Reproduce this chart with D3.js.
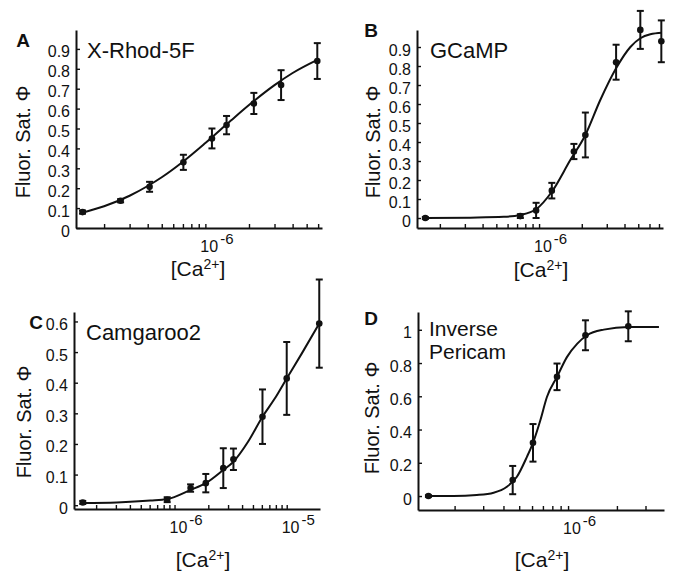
<!DOCTYPE html>
<html>
<head>
<meta charset="utf-8">
<script src="https://cdn.jsdelivr.net/npm/d3@7"></script>
<style>
	body {margin:0; background:#fff;}
	svg {display:block;}
	text {font-family:"Liberation Sans", Arial, Helvetica, sans-serif; fill:#111;}
</style>
</head>
<body>
<script>

//////////////
// data ([Ca2+] in M, saturation 0..1)
//////////////

// A : X-Rhod-5F
var caA = [1.42e-7, 2.6e-7, 4.12e-7, 7.05e-7, 1.11e-6, 1.40e-6, 2.16e-6, 3.33e-6, 5.92e-6];
var phiA = [0.08, 0.137, 0.207, 0.33, 0.45, 0.517, 0.626, 0.718, 0.839];
var errA = [0.008, 0.008, 0.025, 0.038, 0.05, 0.046, 0.053, 0.075, 0.09];
var fitCaA = [1.42e-7, 2e-7, 3e-7, 4e-7, 5e-7, 7e-7, 1e-6, 1.5e-6, 2e-6, 3e-6, 4e-6, 5.92e-6];
var fitPhiA = [0.077, 0.109, 0.162, 0.211, 0.255, 0.333, 0.427, 0.54, 0.618, 0.718, 0.779, 0.845];

// B : GCaMP
var caB = [1.58e-7, 7.38e-7, 9.53e-7, 1.23e-6, 1.76e-6, 2.12e-6, 3.49e-6, 5.17e-6, 7.27e-6];
var phiB = [0.0, 0.01, 0.04, 0.144, 0.35, 0.437, 0.82, 0.99, 0.93];
var errB = [0.005, 0.01, 0.04, 0.041, 0.04, 0.118, 0.092, 0.1, 0.11];
var fitCaB = [1.58e-7, 3.28e-7, 5.64e-7, 7.38e-7, 9.53e-7, 1.23e-6, 1.66e-6, 2.12e-6, 2.7e-6, 3.49e-6, 4.4e-6, 5.17e-6, 6.08e-6, 7.35e-6];
var fitPhiB = [0.0, 0.002, 0.006, 0.016, 0.046, 0.138, 0.305, 0.437, 0.621, 0.788, 0.9, 0.946, 0.967, 0.975];

// C : Camgaroo2
var caC = [1.52e-7, 8.6e-7, 1.39e-6, 1.9e-6, 2.72e-6, 3.35e-6, 6.08e-6, 1.0e-5, 1.95e-5];
var phiC = [0.009, 0.018, 0.056, 0.072, 0.121, 0.15, 0.289, 0.414, 0.593];
var errC = [0.005, 0.008, 0.012, 0.03, 0.065, 0.035, 0.089, 0.119, 0.144];
var fitCaC = [1.52e-7, 3.05e-7, 6.08e-7, 8.6e-7, 1.39e-6, 1.9e-6, 2.72e-6, 3.35e-6, 4.52e-6, 6.08e-6, 7.85e-6, 1e-5, 1.36e-5, 1.95e-5];
var fitPhiC = [0.007, 0.009, 0.015, 0.02, 0.05, 0.072, 0.115, 0.142, 0.207, 0.289, 0.349, 0.414, 0.495, 0.593];

// D : Inverse Pericam
var caD = [1.38e-7, 4.56e-7, 6.08e-7, 8.55e-7, 1.28e-6, 2.35e-6];
var phiD = [0.0, 0.096, 0.32, 0.717, 0.967, 1.021];
var errD = [0.005, 0.085, 0.113, 0.08, 0.09, 0.09];
var fitCaD = [1.38e-7, 1.97e-7, 2.74e-7, 3.48e-7, 4.2e-7, 4.84e-7, 5.58e-7, 6.08e-7, 6.75e-7, 7.41e-7, 8.55e-7, 9.86e-7, 1.14e-6, 1.31e-6, 1.66e-6, 2.35e-6, 3.63e-6];
var fitPhiD = [0.0, 0.0, 0.006, 0.02, 0.056, 0.116, 0.236, 0.32, 0.456, 0.596, 0.717, 0.837, 0.917, 0.967, 1.001, 1.017, 1.017];

// tick labels
var yTicksA = [0, 0.1, 0.2, 0.3, 0.4, 0.5, 0.6, 0.7, 0.8, 0.9];
var yTicksB = [0, 0.1, 0.2, 0.3, 0.4, 0.5, 0.6, 0.7, 0.8, 0.9];
var yTicksC = [0, 0.1, 0.2, 0.3, 0.4, 0.5, 0.6];
var yTicksD = [0, 0.2, 0.4, 0.6, 0.8, 1];
var decadesA = [-6], decadesB = [-6], decadesC = [-6, -5], decadesD = [-6];

var capLen = 3.5; //half width of error caps

var svg = d3.select("body").append("svg")
	.attr("width", 674)
	.attr("height", 573);

//////////////
// one panel
//////////////
function drawPanel(p){
	var xScale = d3.scaleLog().domain(p.xDom).range(p.xPx),
		yScale = d3.scaleLinear().domain(p.yDom).range(p.yPx);
	var g = svg.append("g");

	//log minor ticks, every k*10^e inside the domain
	var ticks = [];
	for (var e = Math.floor(Math.log10(p.xDom[0])); e <= Math.ceil(Math.log10(p.xDom[1])); e++){
		for (var k = 1; k < 10; k++){
			var v = k*Math.pow(10, e);
			if (v >= p.xDom[0] && v <= p.xDom[1]) ticks.push(v);
		}
	}

	var gx = g.append("g")
		.attr("transform", "translate(0," + p.yPx[0] + ")")
		.call(d3.axisBottom(xScale).tickValues(ticks).tickSizeInner(-4).tickSizeOuter(0).tickFormat(""));
	var gy = g.append("g")
		.attr("transform", "translate(" + p.xPx[0] + ",0)")
		.call(d3.axisLeft(yScale).tickValues(p.yTicks).tickSizeInner(-4).tickSizeOuter(0).tickPadding(6)
			.tickFormat(function(d){ return String(d); }));
	[gx, gy].forEach(function(a){
		a.select(".domain").attr("stroke", "#111").attr("stroke-width", 2);
		a.selectAll(".tick line").attr("stroke", "#111").attr("stroke-width", 1.4);
	});
	gy.selectAll(".tick text")
		.attr("dy", "0.5em")
		.style("font-size", "16px")
		.style("font-family", null)
		.attr("fill", "#111");

	//decade labels 10^n
	p.decades.forEach(function(n){
		var t = g.append("text")
			.attr("x", xScale(Math.pow(10, n)) - 5)
			.attr("y", p.yPx[0] + 24)
			.style("font-size", "16px");
		t.append("tspan").text("10");
		t.append("tspan").attr("dx", 2).attr("dy", -8).style("font-size", "15px").text("-" + (-n));
	});

	//x title [Ca2+]
	var xt = g.append("text")
		.attr("x", p.xLabel[0])
		.attr("y", p.xLabel[1])
		.attr("text-anchor", "middle")
		.style("font-size", "21px");
	xt.append("tspan").text("[Ca");
	xt.append("tspan").attr("dy", -7).style("font-size", "14px").text("2+");
	xt.append("tspan").attr("dy", 7).text("]");

	//y title
	g.append("text")
		.attr("transform", "translate(" + p.yLabel[0] + "," + p.yLabel[1] + ") rotate(-90)")
		.attr("text-anchor", "middle")
		.style("font-size", "20px")
		.text("Fluor. Sat. \u03A6");

	//panel letter and name
	g.append("text")
		.attr("x", p.letterPos[0])
		.attr("y", p.letterPos[1])
		.attr("text-anchor", "middle")
		.style("font-size", "19px")
		.style("font-weight", "bold")
		.text(p.letter);
	p.name.forEach(function(s, i){
		g.append("text")
			.attr("x", p.namePos[0])
			.attr("y", p.namePos[1] + i*23)
			.style("font-size", p.name.length > 1 ? "21px" : "22px")
			.text(s);
	});

	//fit curve
	var fit = p.fitX.map(function(d, i){ return [d, p.fitY[i]]; });
	g.append("path")
		.datum(fit)
		.attr("fill", "none")
		.attr("stroke", "#111")
		.attr("stroke-width", 2)
		.attr("d", d3.line()
			.x(function(d){ return xScale(d[0]); })
			.y(function(d){ return yScale(d[1]); })
			.curve(d3.curveMonotoneX));

	var pts = p.x.map(function(d, i){ return {x:d, y:p.y[i], ye:p.e[i]}; });

	// error lines + caps
	g.append("g").selectAll("line")
		.data(pts).enter()
			.append("line")
			.attr("stroke", "#111")
			.attr("stroke-width", 2)
			.attr("x1", function(d){ return xScale(d.x); })
			.attr("x2", function(d){ return xScale(d.x); })
			.attr("y1", function(d){ return yScale(d.y + d.ye); })
			.attr("y2", function(d){ return yScale(d.y - d.ye); });
	[1, -1].forEach(function(sgn){
		g.append("g").selectAll("line")
			.data(pts).enter()
				.append("line")
				.attr("stroke", "#111")
				.attr("stroke-width", 2)
				.attr("x1", function(d){ return xScale(d.x) - capLen; })
				.attr("x2", function(d){ return xScale(d.x) + capLen; })
				.attr("y1", function(d){ return yScale(d.y + sgn*d.ye); })
				.attr("y2", function(d){ return yScale(d.y + sgn*d.ye); });
	});

	g.append("g").selectAll("circle")
		.data(pts).enter()
			.append("circle")
			.attr("fill", "#111")
			.attr("r", 3.3)
			.attr("cx", function(d){ return xScale(d.x); })
			.attr("cy", function(d){ return yScale(d.y); });
}

drawPanel({letter:"A", name:["X-Rhod-5F"], x:caA, y:phiA, e:errA, fitX:fitCaA, fitY:fitPhiA,
	xDom:[1.28e-7, 6.38e-6], xPx:[76, 322], yDom:[0, 0.995], yPx:[228, 30],
	yTicks:yTicksA, decades:decadesA,
	letterPos:[23, 47], namePos:[87, 58], xLabel:[198, 276], yLabel:[30, 142]});

drawPanel({letter:"B", name:["GCaMP"], x:caB, y:phiB, e:errB, fitX:fitCaB, fitY:fitPhiB,
	xDom:[1.38e-7, 7.47e-6], xPx:[417, 663], yDom:[-0.0526, 0.9895], yPx:[228, 30],
	yTicks:yTicksB, decades:decadesB,
	letterPos:[371, 37], namePos:[430, 58], xLabel:[541, 277], yLabel:[380, 142]});

drawPanel({letter:"C", name:["Camgaroo2"], x:caC, y:phiC, e:errC, fitX:fitCaC, fitY:fitPhiC,
	xDom:[1.27e-7, 1.98e-5], xPx:[74, 320], yDom:[-0.0124, 0.6309], yPx:[509, 312],
	yTicks:yTicksC, decades:decadesC,
	letterPos:[36, 329], namePos:[86, 340], xLabel:[203, 567], yLabel:[31, 422]});

drawPanel({letter:"D", name:["Inverse", "Pericam"], x:caD, y:phiD, e:errD, fitX:fitCaD, fitY:fitPhiD,
	xDom:[1.19e-7, 3.9e-6], xPx:[418, 664], yDom:[-0.084, 1.107], yPx:[510, 312],
	yTicks:yTicksD, decades:decadesD,
	letterPos:[371, 325], namePos:[429, 336], xLabel:[542, 567], yLabel:[379, 418]});

</script>
</body>
</html>
